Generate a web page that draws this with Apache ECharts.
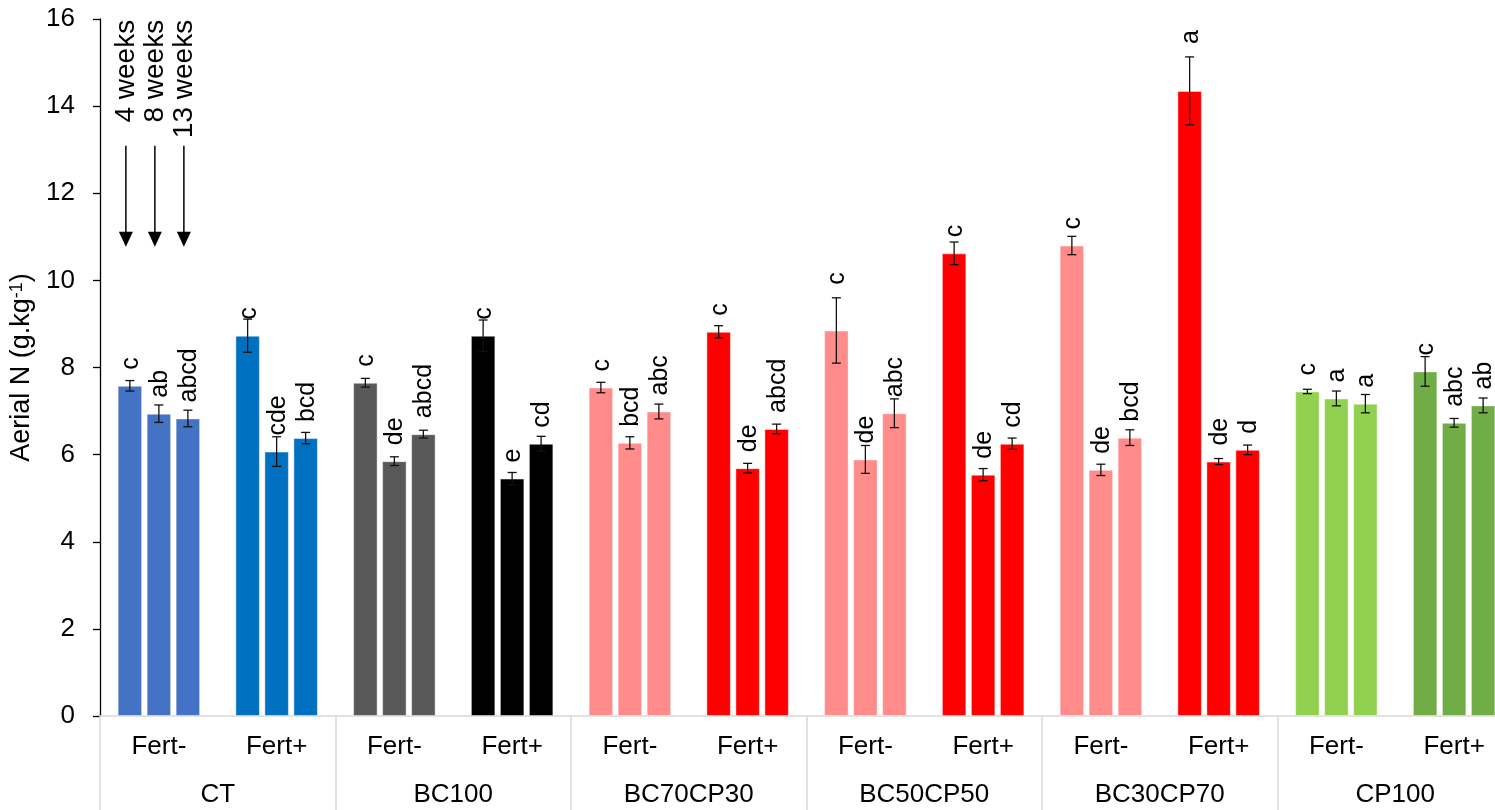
<!DOCTYPE html>
<html><head><meta charset="utf-8">
<script src="https://cdn.jsdelivr.net/npm/echarts@6/dist/echarts.min.js"></script>
<style>html,body{margin:0;padding:0;background:#fff;overflow:hidden}#c{width:1495px;height:810px}</style>
</head><body><div id="c"></div>
<script>
// ---------- data ----------
const groups = ['CT', 'BC100', 'BC70CP30', 'BC50CP50', 'BC30CP70', 'CP100'];
const treatments = ['Fert-', 'Fert+'];
const weekNames = ['4 weeks', '8 weeks', '13 weeks'];
const subCategories = ['Fert-', 'Fert+', 'Fert-', 'Fert+', 'Fert-', 'Fert+', 'Fert-', 'Fert+', 'Fert-', 'Fert+', 'Fert-', 'Fert+'];
const week4  = [7.58, 8.73, 7.65, 8.73, 7.54, 8.82, 8.85, 10.62, 10.80, 14.35, 7.45, 7.91];
const week8  = [6.94, 6.07, 5.85, 5.45, 6.27, 5.69, 5.89, 5.54, 5.65, 5.84, 7.29, 6.73];
const week13 = [6.83, 6.38, 6.47, 6.25, 6.99, 6.59, 6.95, 6.25, 6.39, 6.11, 7.17, 7.13];
const err4  = [0.12, 0.38, 0.10, 0.36, 0.12, 0.14, 0.75, 0.26, 0.21, 0.78, 0.05, 0.34];
const err8  = [0.20, 0.34, 0.10, 0.14, 0.14, 0.11, 0.32, 0.14, 0.13, 0.07, 0.17, 0.10];
const err13 = [0.19, 0.13, 0.09, 0.17, 0.17, 0.11, 0.33, 0.13, 0.18, 0.11, 0.21, 0.17];
const letters4  = ['c', 'c', 'c', 'c', 'c', 'c', 'c', 'c', 'c', 'a', 'c', 'c'];
const letters8  = ['ab', 'cde', 'de', 'e', 'bcd', 'de', 'de', 'de', 'de', 'de', 'a', 'abc'];
const letters13 = ['abcd', 'bcd', 'abcd', 'cd', 'abc', 'abcd', 'abc', 'cd', 'bcd', 'd', 'a', 'ab'];
const yTicks = [0, 2, 4, 6, 8, 10, 12, 14, 16];
// annotation arrows (in axis units)
const arrowLineTop = 13.09;
const arrowTip = 10.77;
const arrowTextEnd = 15.98;

// ---------- styles ----------
const subColors = ['#4472C4', '#0070C0', '#595959', '#000000', '#FF8B8B', '#FF0000',
                   '#FF8B8B', '#FF0000', '#FF8B8B', '#FF0000', '#92D050', '#70AD47'];
const FONT = '"Liberation Sans", Arial, sans-serif';
const BAR_W = 24.5, GAP = 4.5;

const values = [week4, week8, week13];
const errs = [err4, err8, err13];
const letters = [letters4, letters8, letters13];

const barSeries = values.map((arr, k) => ({
  type: 'bar',
  name: weekNames[k],
  xAxisIndex: 0, yAxisIndex: 0,
  barWidth: BAR_W,
  barGap: (GAP / BAR_W * 100) + '%',
  data: arr.map((v, i) => ({ value: v, itemStyle: { color: subColors[i] } })),
  itemStyle: { borderColor: 'rgba(255,255,255,0.45)', borderWidth: 1 },
  z: 2
}));

const errData = [];
for (let k = 0; k < 3; k++) for (let i = 0; i < 12; i++) errData.push([i, k, values[k][i], errs[k][i]]);

const errSeries = {
  type: 'custom',
  xAxisIndex: 0, yAxisIndex: 0,
  clip: false, z: 5,
  encode: { x: 0, y: 2 },
  data: errData,
  renderItem: function (params, api) {
    const i = api.value(0), k = api.value(1), m = api.value(2), e = api.value(3);
    const c = api.coord([i, m]);
    const x = c[0] + (k - 1) * (BAR_W + GAP);
    const yTop = api.coord([i, m + e])[1];
    const yBot = api.coord([i, m - e])[1];
    const half = 4.5;
    const ls = { stroke: '#111', lineWidth: 1.3 };
    const errPx = yBot - yTop;
    const labelY = (errPx / 2 > 25) ? yTop - 13 : c[1] - 16;
    return {
      type: 'group',
      children: [
        { type: 'line', shape: { x1: x, y1: yTop, x2: x, y2: yBot }, style: ls },
        { type: 'line', shape: { x1: x - half, y1: yTop, x2: x + half, y2: yTop }, style: ls },
        { type: 'line', shape: { x1: x - half, y1: yBot, x2: x + half, y2: yBot }, style: ls },
        { type: 'text', x: x + 1, y: labelY, rotation: Math.PI / 2,
          style: { text: letters[k][i], fontSize: 25, fontFamily: FONT, fill: '#000',
                   align: 'left', verticalAlign: 'middle' } }
      ]
    };
  }
};

const arrowSeries = {
  type: 'custom',
  xAxisIndex: 0, yAxisIndex: 0,
  clip: false, z: 6,
  encode: { x: 0, y: 2 },
  data: weekNames.map((w, k) => [0, k, arrowLineTop]),
  renderItem: function (params, api) {
    const k = api.value(1);
    const c = api.coord([0, arrowLineTop]);
    const x = c[0] + (k - 1) * (BAR_W + GAP) - 4;
    const yTip = api.coord([0, arrowTip])[1];
    const yText = api.coord([0, arrowTextEnd])[1];
    return {
      type: 'group',
      children: [
        { type: 'line', shape: { x1: x, y1: c[1], x2: x, y2: yTip - 12 }, style: { stroke: '#000', lineWidth: 1.5 } },
        { type: 'polygon', shape: { points: [[x - 7, yTip - 15], [x + 7, yTip - 15], [x, yTip]] }, style: { fill: '#000' } },
        { type: 'text', x: x, y: yText, rotation: Math.PI / 2,
          style: { text: weekNames[k], fontSize: 28, fontFamily: FONT, fill: '#000',
                   align: 'right', verticalAlign: 'middle' } }
      ]
    };
  }
};

const option = {
  animation: false,
  backgroundColor: '#fff',
  grid: { left: 100, top: 19, right: -18, bottom: 94, containLabel: false, outerBoundsMode: 'none' },
  xAxis: [
    {
      type: 'category', data: subCategories, position: 'bottom',
      axisLine: { show: true, lineStyle: { color: '#d9d9d9', width: 1.5 } },
      axisTick: { show: false },
      axisLabel: { fontSize: 26, fontFamily: FONT, color: '#000', margin: 18, interval: 0 }
    },
    {
      type: 'category', data: groups, position: 'bottom',
      axisLine: { show: false },
      axisTick: { show: true, length: 94, interval: 0, lineStyle: { color: '#d9d9d9', width: 1.5 } },
      axisLabel: { fontSize: 26, fontFamily: FONT, color: '#000', margin: 66, interval: 0 }
    }
  ],
  yAxis: {
    type: 'value', min: yTicks[0], max: yTicks[yTicks.length - 1], interval: yTicks[1] - yTicks[0],
    name: '{t|Aerial N (g.kg}{s|-1}{t|)}',
    nameLocation: 'middle', nameGap: 47,
    nameTextStyle: {
      rich: {
        t: { fontSize: 27, fontFamily: FONT, color: '#000' },
        s: { fontSize: 18, fontFamily: FONT, color: '#000', verticalAlign: 'top' }
      }
    },
    axisLine: { show: true, lineStyle: { color: '#000', width: 1.3 } },
    axisTick: { show: true, length: 7, lineStyle: { color: '#000', width: 1.3 } },
    axisLabel: { fontSize: 26, fontFamily: FONT, color: '#000', margin: 25 },
    splitLine: { show: false }
  },
  series: [...barSeries, errSeries, arrowSeries]
};

const chart = echarts.init(document.getElementById('c'), null, { renderer: 'canvas' });
chart.setOption(option);
</script>
</body></html>
